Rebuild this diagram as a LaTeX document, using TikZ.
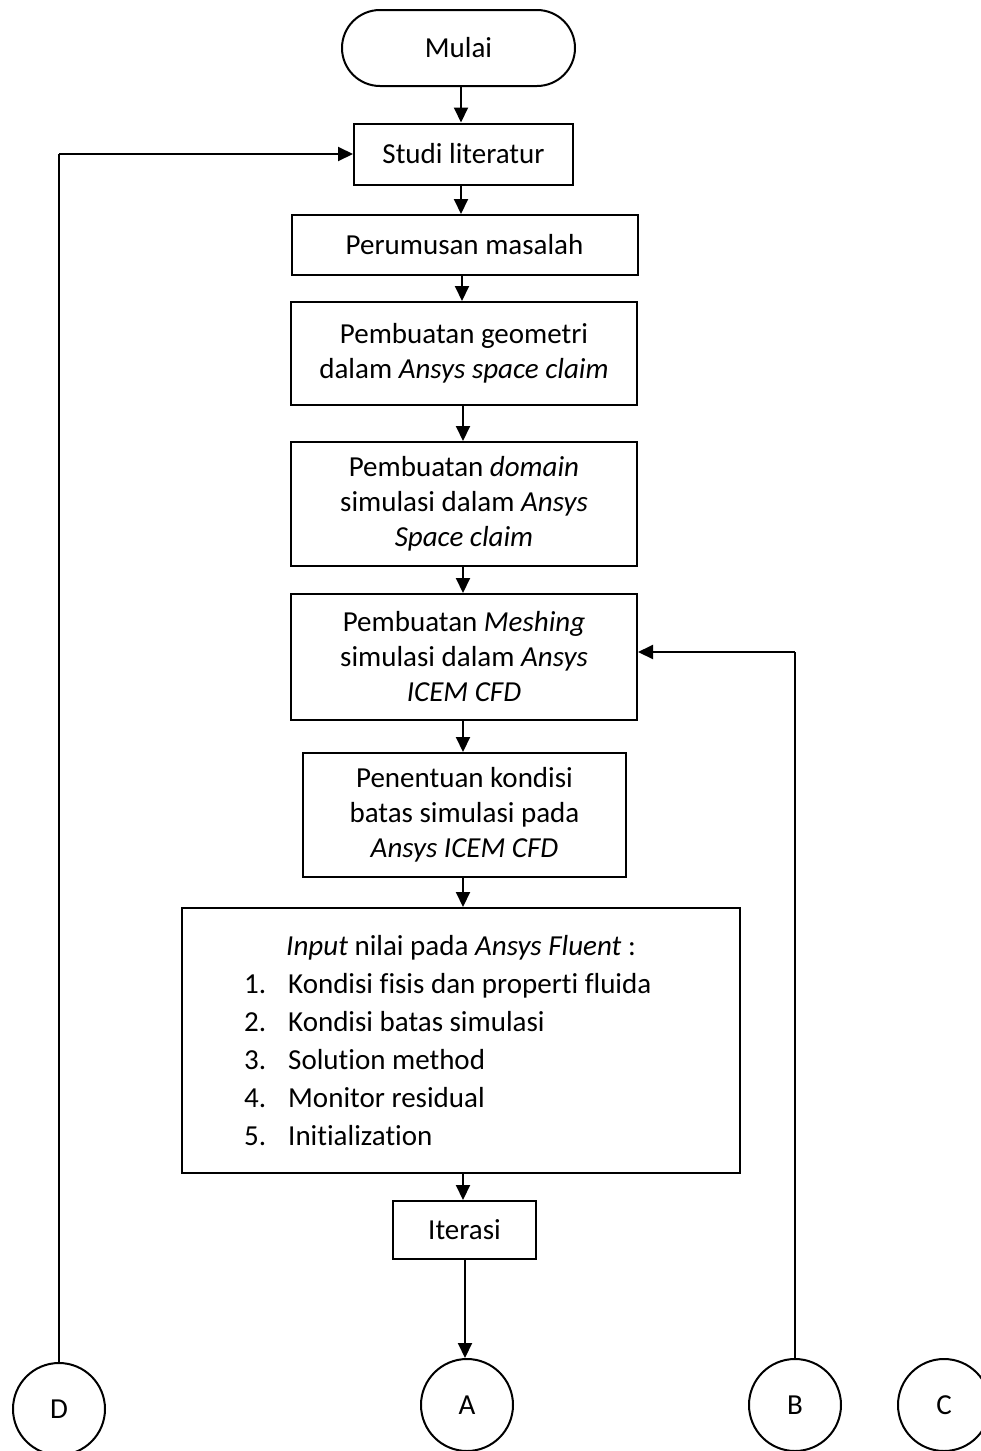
\documentclass[tikz,border=0pt]{standalone}
\usepackage{fontspec}
\setmainfont{Carlito}[Ligatures={NoCommon}]
\usetikzlibrary{arrows.meta}
\tikzset{
  boxed/.style={draw, line width=2pt, rectangle, align=center, inner sep=0pt,
    font=\fontsize{29}{35}\selectfont},
  term/.style={boxed, rounded corners=38pt},
  conn/.style={draw, line width=2pt, circle, minimum size=92pt, inner sep=0pt,
    font=\fontsize{29}{35}\selectfont},
  flow/.style={line width=2pt, -{Triangle[length=15pt,width=14pt]}},
  seg/.style={line width=2pt},
  txt/.style={inner sep=0pt, anchor=base west, font=\fontsize{29}{35}\selectfont}
}
\begin{document}
\begin{tikzpicture}[x=1pt,y=-1pt]
\useasboundingbox (0,0) rectangle (981,1451);
\fill[white] (0,0) rectangle (981,1451);
\begin{scope}
\clip (0,0) rectangle (981,1451);
\node[term, minimum width=233pt, minimum height=76pt] (mulai) at (458.5,48) {Mulai};
\node[boxed, minimum width=219pt, minimum height=61pt] (studi) at (463.5,154) {Studi literatur};
\node[boxed, minimum width=346pt, minimum height=60pt] (rumus) at (464.5,245) {Perumusan masalah};
\node[boxed, minimum width=346pt, minimum height=103pt] (geo) at (464,353.5) {Pembuatan geometri\\dalam \textit{Ansys space claim}};
\node[boxed, minimum width=346pt, minimum height=124pt] (dom) at (464,504) {Pembuatan \textit{domain}\\simulasi dalam \textit{Ansys}\\\textit{Space claim}};
\node[boxed, minimum width=346pt, minimum height=126pt] (mesh) at (464,657) {Pembuatan \textit{Meshing}\\simulasi dalam \textit{Ansys}\\\textit{ICEM CFD}};
\node[boxed, minimum width=323pt, minimum height=124pt] (tentu) at (464.5,815) {Penentuan kondisi\\batas simulasi pada\\\textit{Ansys ICEM CFD}};
\node[boxed, minimum width=558pt, minimum height=265pt] (input) at (461,1040.5) {};
\node[inner sep=0pt, anchor=base, font=\fontsize{29}{35}\selectfont] (inhead) at (461,955) {\textit{Input} nilai pada \textit{Ansys Fluent} :};
\node[txt] (n1) at (244,993) {1.};
\node[txt] (t1) at (288,993) {Kondisi fisis dan properti fluida};
\node[txt] (n2) at (244,1031) {2.};
\node[txt] (t2) at (288,1031) {Kondisi batas simulasi};
\node[txt] (n3) at (244,1069) {3.};
\node[txt] (t3) at (288,1069) {Solution method};
\node[txt] (n4) at (244,1107) {4.};
\node[txt] (t4) at (288,1107) {Monitor residual};
\node[txt] (n5) at (244,1145) {5.};
\node[txt] (t5) at (288,1145) {Initialization};
\node[boxed, minimum width=143pt, minimum height=58pt] (iter) at (464.5,1230) {Iterasi};
\node[conn] (D) at (59,1409) {D};
\node[conn] (A) at (467,1405) {A};
\node[conn] (B) at (795,1405) {B};
\node[conn] (C) at (944,1405) {C};

\draw[flow] (mulai.south -| 461,0) -- (461,0 |- studi.north);
\draw[flow] (studi.south -| 461,0) -- (461,0 |- rumus.north);
\draw[flow] (rumus.south -| 462,0) -- (462,0 |- geo.north);
\draw[flow] (geo.south -| 463,0) -- (463,0 |- dom.north);
\draw[flow] (dom.south -| 463,0) -- (463,0 |- mesh.north);
\draw[flow] (mesh.south -| 463,0) -- (463,0 |- tentu.north);
\draw[flow] (tentu.south -| 463,0) -- (463,0 |- input.north);
\draw[flow] (input.south -| 463,0) -- (463,0 |- iter.north);
\draw[flow] (iter.south -| 465,0) -- (465,0 |- A.north);
\coordinate (dturn) at (D.north |- studi.west);
\draw[seg] (D.north) -- (dturn);
\draw[flow] (dturn) -- (studi.west);
\coordinate (bturn) at (B.north |- 0,652);
\coordinate (bend) at (mesh.east |- 0,652);
\draw[seg] (B.north) -- (bturn);
\draw[flow] (bturn) -- (bend);
\end{scope}
\end{tikzpicture}
\end{document}
